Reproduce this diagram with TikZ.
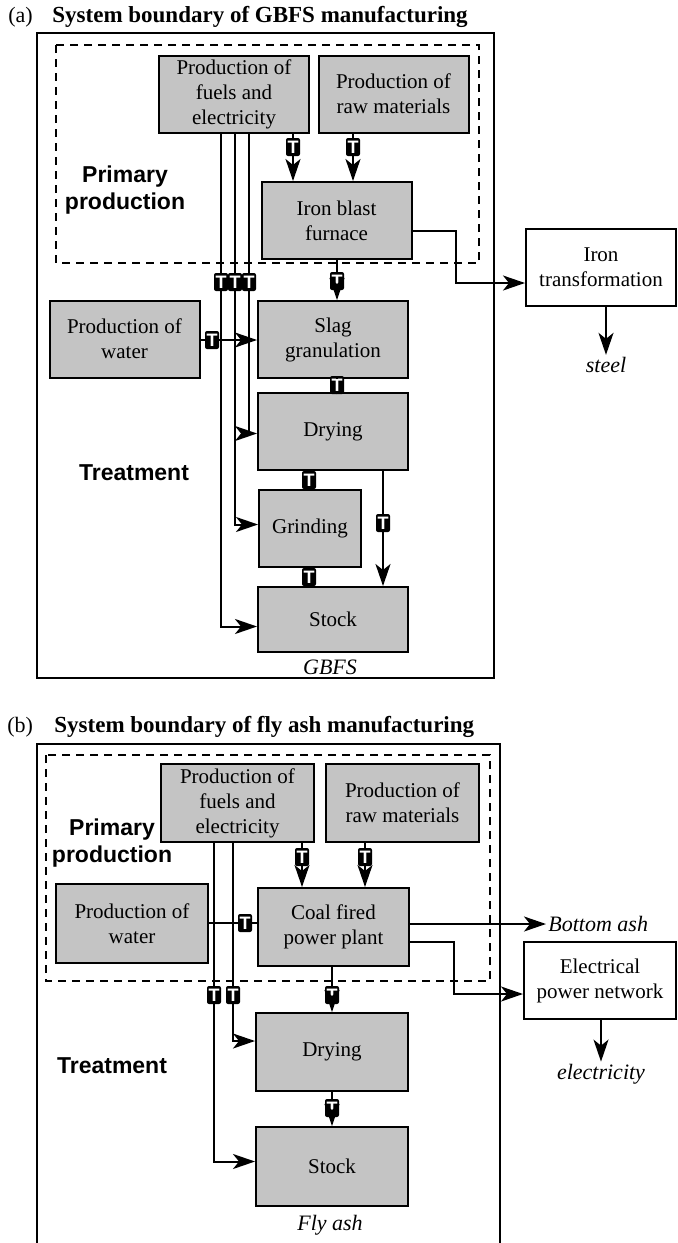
\documentclass[tikz,border=0pt]{standalone}
\usepackage{fontspec}
\setmainfont{Liberation Serif}
\setsansfont{Liberation Sans}
\usetikzlibrary{arrows.meta}
\definecolor{boxgray}{RGB}{196,196,196}

\begin{document}
\begin{tikzpicture}[x=0.5pt,y=-0.5pt,
  proc/.style={draw,line width=1pt,fill=boxgray,align=center,inner sep=0pt,minimum width=75pt,minimum height=38.5pt,font=\fontsize{10.5}{12.5}\selectfont},
  outer/.style={proc,fill=white},
  tmark/.style={fill=black,rounded corners=1pt,text=white,inner sep=0pt,minimum width=7pt,minimum height=9pt,font=\sffamily\bfseries\fontsize{9}{9}\selectfont},
  link/.style={line width=1pt},
  flow/.style={line width=1pt,-{Stealth[length=11pt,width=7.5pt,inset=3pt]}},
  stage/.style={align=center,font=\sffamily\bfseries\fontsize{11.5}{13.5}\selectfont},
  product/.style={inner sep=1pt,font=\itshape\fontsize{11}{13}\selectfont},
  bound/.style={line width=1pt},
  dashbound/.style={line width=1pt,dash pattern=on 4pt off 3pt}]
\useasboundingbox (0,0) rectangle (677,1243);

% (a)
\node[anchor=west,inner sep=0pt,font=\fontsize{11}{13}\selectfont] (tagA) at (8,17) {(a)};
\node[anchor=west,inner sep=0pt,font=\bfseries\fontsize{11.5}{13}\selectfont] (titleA) at (52,17) {System boundary of GBFS manufacturing};
\draw[bound] (37,33) rectangle (494,678);
\draw[dashbound] (56,45) rectangle (479,263);

\node[proc] (fuelsA) at (234,94) {Production of\\fuels and\\electricity};
\node[proc] (rawA) at (393.5,94) {Production of\\raw materials};
\node[proc] (furnaceA) at (336.5,220.5) {Iron blast\\furnace};
\node[proc] (waterA) at (124.5,339) {Production of\\water};
\node[proc] (slagA) at (333,339.5) {Slag\\granulation};
\node[proc] (dryA) at (333,431.5) {Drying};
\node[proc,minimum width=51pt] (grindA) at (310,528.5) {Grinding};
\node[proc,minimum height=32.5pt] (stockA) at (333,619.5) {Stock};
\node[outer] (ironA) at (601,267.5) {Iron\\transformation};
\node[product] (steelA) at (606,365) {steel};
\node[product] (gbfsA) at (330,667) {GBFS};
\node[stage] (primA) at (125,190) {Primary\\production};
\node[stage] (treatA) at (134,473) {Treatment};

\node[tmark] (tA1) at (293,147) {T};
\node[tmark] (tA2) at (353,147) {T};
\node[tmark] (tA3) at (337,281) {T};
\node[tmark] (tA4) at (212,340) {T};
\node[tmark] (tA5) at (337,385) {T};
\node[tmark] (tA6) at (309,480) {T};
\node[tmark] (tA7) at (309,577) {T};
\node[tmark] (tA8) at (383,523) {T};
\node[tmark] (tA9) at (221,282) {T};
\node[tmark] (tA10) at (235,282) {T};
\node[tmark] (tA11) at (249,282) {T};
\coordinate (bendA) at (456,283);

\draw[link] (fuelsA.south -| tA1) -- (tA1);
\draw[flow] (tA1) -- (furnaceA.north -| tA1);
\draw[link] (rawA.south -| tA2) -- (tA2);
\draw[flow] (tA2) -- (furnaceA.north -| tA2);
\draw[link] (furnaceA.south -| tA3) -- (tA3);
\draw[flow] (tA3) -- (slagA.north -| tA3);
\draw[link] (waterA.east |- tA4) -- (tA4);
\draw[flow] (tA4) -- (slagA.west |- tA4);
\draw[link] (slagA.south -| tA5) -- (tA5) -- (dryA.north -| tA5);
\draw[link] (dryA.south -| tA6) -- (tA6) -- (grindA.north -| tA6);
\draw[link] (grindA.south -| tA7) -- (tA7) -- (stockA.north -| tA7);
\draw[link] (dryA.south -| tA8) -- (tA8);
\draw[flow] (tA8) -- (stockA.north -| tA8);
\draw[link] (fuelsA.south -| tA9) -- (tA9);
\draw[link] (fuelsA.south -| tA10) -- (tA10);
\draw[link] (fuelsA.south -| tA11) -- (tA11);
\draw[flow] (tA9) |- ([yshift=-3.5pt]stockA.west);
\draw[flow] (tA10) |- ([yshift=2pt]grindA.west);
\draw[flow] (tA11) |- ([yshift=-1pt]dryA.west);
\draw[flow] ([yshift=-5.25pt]furnaceA.east) -| (bendA) -- (ironA.west |- bendA);
\draw[flow] (ironA.south -| steelA) -- (steelA.north);

% (b)
\node[anchor=west,inner sep=0pt,font=\fontsize{11}{13}\selectfont] (tagB) at (7,727) {(b)};
\node[anchor=west,inner sep=0pt,font=\bfseries\fontsize{11.5}{13}\selectfont] (titleB) at (54,727) {System boundary of fly ash manufacturing};
\draw[bound] (37,1243) |- (500,744) -- (500,1243);
\draw[dashbound] (46,755) rectangle (490,981);

\node[proc,minimum width=76.5pt,minimum height=39pt] (fuelsB) at (237.5,803) {Production of\\fuels and\\electricity};
\node[proc,minimum width=76.5pt,minimum height=39pt] (rawB) at (402.5,803) {Production of\\raw materials};
\node[proc,minimum width=76pt,minimum height=39.5pt] (waterB) at (132,923.5) {Production of\\water};
\node[proc,minimum width=75.5pt,minimum height=39pt] (plantB) at (333.5,927) {Coal fired\\power plant};
\node[proc,minimum width=76pt,minimum height=39pt] (dryB) at (332,1052) {Drying};
\node[proc,minimum width=76pt,minimum height=39.5pt] (stockB) at (332,1166.5) {Stock};
\node[outer,minimum width=76pt] (netB) at (600,980.5) {Electrical\\power network};
\node[product,anchor=west] (ashB) at (546,924) {Bottom ash};
\node[product] (elecB) at (601,1074) {electricity};
\node[product] (flyB) at (330,1225) {Fly ash};
\node[stage] (primB) at (112,843) {Primary\\production};
\node[stage] (treatB) at (112,1066) {Treatment};

\node[tmark] (tB1) at (302,857) {T};
\node[tmark] (tB2) at (365,857) {T};
\node[tmark] (tB3) at (245,923) {T};
\node[tmark] (tB4) at (214,995) {T};
\node[tmark] (tB5) at (233,995) {T};
\node[tmark] (tB6) at (332,995) {T};
\node[tmark] (tB7) at (332,1108) {T};
\coordinate (bendB) at (454,994);

\draw[link] (fuelsB.south -| tB1) -- (tB1);
\draw[flow] (tB1) -- (plantB.north -| tB1);
\draw[link] (rawB.south -| tB2) -- (tB2);
\draw[flow] (tB2) -- (plantB.north -| tB2);
\draw[link] (waterB.east |- tB3) -- (tB3) -- (plantB.west |- tB3);
\draw[link] (fuelsB.south -| tB4) -- (tB4);
\draw[link] (fuelsB.south -| tB5) -- (tB5);
\draw[flow] (tB4) |- ([yshift=2.5pt]stockB.west);
\draw[flow] (tB5) |- ([yshift=5.5pt]dryB.west);
\draw[link] (plantB.south -| tB6) -- (tB6);
\draw[flow] (tB6) -- (dryB.north -| tB6);
\draw[link] (dryB.south -| tB7) -- (tB7);
\draw[flow] (tB7) -- (stockB.north -| tB7);
\draw[flow] (plantB.east |- ashB) -- (ashB.west);
\draw[flow] ([yshift=-7.5pt]plantB.east) -| (bendB) -- (netB.west |- bendB);
\draw[flow] (netB.south -| elecB) -- (elecB.north);
\end{tikzpicture}
\end{document}
